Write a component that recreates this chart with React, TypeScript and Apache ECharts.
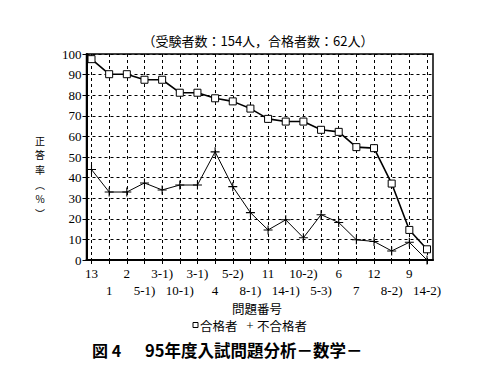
import React, { useEffect, useRef } from "react";
import * as echarts from "echarts";

const categories = ["13", "1", "2", "5-1)", "3-1)", "10-1)", "3-1)", "4", "5-2)", "8-1)", "11", "14-1)", "10-2)", "5-3)", "6", "7", "12", "8-2)", "9", "14-2)"];
const passers = [97.5, 90.2, 90.2, 87.5, 87.5, 81.2, 81.2, 78.5, 77.0, 73.5, 68.5, 67.2, 67.2, 63.2, 62.2, 54.8, 54.3, 37.1, 14.6, 5.2];
const nonPassers = [43.9, 33.0, 33.0, 37.4, 34.0, 36.4, 36.4, 52.5, 35.6, 23.0, 14.6, 19.5, 10.8, 22.0, 18.2, 9.8, 9.0, 4.4, 8.6, 0];
const seriesNames = ["合格者", "不合格者"];
const titleText = "（受験者数：154人，合格者数：62人）";
const yNameChars = ["正", "答", "率", "︵", "%", "︶"];
const xName = "問題番号";
const captionA = "図 4";
const captionB = "95年度入試問題分析－数学－";

const SERIF = "'Liberation Serif', 'Noto Sans CJK JP', serif";
const CJK = "'Noto Sans CJK JP', sans-serif";
const PLUS = "path://M4.4,0h1.2v4.4h4.4v1.2h-4.4v4.4h-1.2v-4.4h-4.4v-1.2h4.4z";

export default function App() {
  const ref = useRef<HTMLDivElement>(null);
  useEffect(() => {
    if (!ref.current) return;
    const chart = echarts.init(ref.current, null, { renderer: "svg" });
    const top = 54;
    const height = 206;
    const yNameGraphics = yNameChars.map((c, i) => ({
      type: "text",
      x: 40,
      y: 140 + i * 14.7,
      style: { text: c, fontFamily: CJK, fontSize: 10, fill: "#000", align: "center", verticalAlign: "middle" },
    }));
    chart.setOption({
      animation: false,
      backgroundColor: "#fff",
      grid: [
        { left: 86.5, top, width: 346.5, height, show: true, borderColor: "#000", borderWidth: 1.5, backgroundColor: "transparent" },
        { left: 91.5, top, width: 335.5, height, show: false },
      ],
      xAxis: [
        {
          gridIndex: 0, type: "value", min: 0, max: 1,
          axisLine: { show: true, onZero: false, lineStyle: { color: "#000", width: 2 } },
          axisTick: { show: false }, axisLabel: { show: false }, splitLine: { show: false },
        },
        {
          gridIndex: 1, type: "category", data: categories, boundaryGap: false,
          axisLine: { show: false },
          axisTick: { show: true, length: 4, alignWithLabel: true, lineStyle: { color: "#000", width: 1 } },
          axisLabel: {
            interval: 0, margin: 5, color: "#000", fontFamily: SERIF, fontSize: 13, lineHeight: 17,
            formatter: (v: string, i: number) => (i % 2 === 1 ? "\n" + v : v),
          },
          splitLine: { show: true, interval: 0, lineStyle: { color: "#000", width: 1, type: [3, 3] } },
        },
      ],
      yAxis: [
        {
          gridIndex: 0, type: "value", min: 0, max: 100, interval: 10,
          axisLine: { show: true, lineStyle: { color: "#000", width: 2 } },
          axisTick: { show: true, length: 4, lineStyle: { color: "#000" } },
          axisLabel: { color: "#000", fontFamily: SERIF, fontSize: 13, margin: 5 },
          splitLine: { show: true, lineStyle: { color: "#000", width: 1, type: [3, 3] } },
        },
        {
          gridIndex: 1, type: "value", min: 0, max: 100, show: false,
        },
      ],
      series: [
        {
          name: seriesNames[0], type: "line", xAxisIndex: 1, yAxisIndex: 1, data: passers,
          symbol: "rect", symbolSize: 7, showAllSymbol: true,
          lineStyle: { color: "#000", width: 1.6 },
          itemStyle: { color: "#fff", borderColor: "#000", borderWidth: 1 },
          z: 5,
        },
        {
          name: seriesNames[1], type: "line", xAxisIndex: 1, yAxisIndex: 1, data: nonPassers,
          symbol: PLUS, symbolSize: 9, showAllSymbol: true,
          lineStyle: { color: "#000", width: 1 },
          itemStyle: { color: "#000" },
          z: 4,
        },
      ],
      graphic: [
        { type: "text", x: 258, y: 40, style: { text: titleText, fontFamily: CJK, fontSize: 13, fill: "#000", align: "center", verticalAlign: "middle" } },
        ...yNameGraphics,
        { type: "text", x: 257, y: 308, style: { text: xName, fontFamily: CJK, fontSize: 12.5, fill: "#000", align: "center", verticalAlign: "middle" } },
        { type: "rect", shape: { x: 193, y: 322.5, width: 5, height: 5 }, style: { fill: "#fff", stroke: "#000", lineWidth: 1 } },
        { type: "text", x: 200, y: 325, style: { text: seriesNames[0], fontFamily: CJK, fontSize: 12.5, fill: "#000", align: "left", verticalAlign: "middle" } },
        { type: "text", x: 250, y: 325, style: { text: "+", fontFamily: SERIF, fontSize: 13, fill: "#000", align: "center", verticalAlign: "middle" } },
        { type: "text", x: 257, y: 325, style: { text: seriesNames[1], fontFamily: CJK, fontSize: 12.5, fill: "#000", align: "left", verticalAlign: "middle" } },
        { type: "text", x: 92, y: 350, style: { text: captionA, fontFamily: CJK, fontSize: 16, fontWeight: "bold", fill: "#000", align: "left", verticalAlign: "middle" } },
        { type: "text", x: 145, y: 350, style: { text: captionB, fontFamily: CJK, fontSize: 16.5, fontWeight: "bold", fill: "#000", align: "left", verticalAlign: "middle" } },
      ],
    });
    return () => chart.dispose();
  }, []);
  return <div ref={ref} style={{ width: 492, height: 376, position: "absolute", left: 0, top: 0 }} />;
}
